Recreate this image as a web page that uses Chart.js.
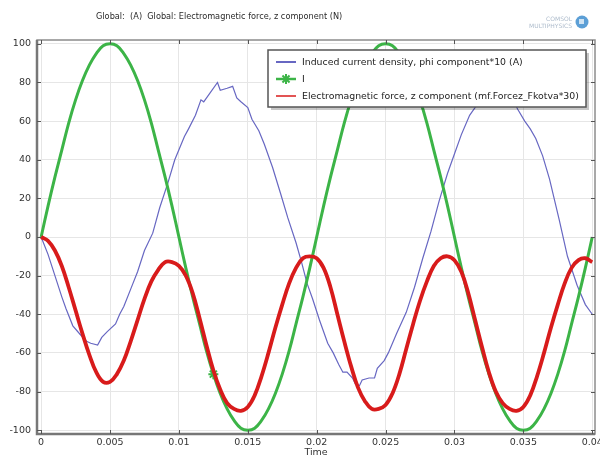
<!DOCTYPE html>
<html>
<head>
<meta charset="utf-8">
<title>Electromagnetic force, z component</title>
<script src="https://cdn.jsdelivr.net/npm/chart.js@4.4.0/dist/chart.umd.min.js"></script>
<style>
  html, body { margin: 0; padding: 0; background: #fff; }
  #wrap { width: 600px; height: 458px; }
</style>
</head>
<body>
<div id="wrap"><canvas id="emChart" width="600" height="458"></canvas></div>
<script>
// Sample times (s) shared by the current and the force curves
const timeSamples = [
  0, 0.0005, 0.001, 0.0015, 0.002, 0.0025, 0.003, 0.0035, 0.004, 0.0045,
  0.005, 0.0055, 0.006, 0.0065, 0.007, 0.0075, 0.008, 0.0085, 0.009, 0.0095,
  0.01, 0.0105, 0.011, 0.0115, 0.012, 0.0125, 0.013, 0.0135, 0.014, 0.0145,
  0.015, 0.0155, 0.016, 0.0165, 0.017, 0.0175, 0.018, 0.0185, 0.019, 0.0195,
  0.02, 0.0205, 0.021, 0.0215, 0.022, 0.0225, 0.023, 0.0235, 0.024, 0.0245,
  0.025, 0.0255, 0.026, 0.0265, 0.027, 0.0275, 0.028, 0.0285, 0.029, 0.0295,
  0.03, 0.0305, 0.031, 0.0315, 0.032, 0.0325, 0.033, 0.0335, 0.034, 0.0345,
  0.035, 0.0355, 0.036, 0.0365, 0.037, 0.0375, 0.038, 0.0385, 0.039, 0.0395,
  0.04
];

// Green curve "I"
const currentI = [
  0, 16, 31, 45, 59, 71, 81, 89, 95, 99,
  100, 99, 95, 89, 81, 71, 59, 45, 31, 16,
  0, -16, -31, -45, -59, -71, -81, -89, -95, -99,
  -100, -99, -95, -89, -81, -71, -59, -45, -31, -16,
  0, 16, 31, 45, 59, 71, 81, 89, 95, 99,
  100, 99, 95, 89, 81, 71, 59, 45, 31, 16,
  0, -16, -31, -45, -59, -71, -81, -89, -95, -99,
  -100, -99, -95, -89, -81, -71, -59, -45, -31, -16,
  0
];

// Red curve, force z component (*30)
const forceZ = [
  0, -2, -7, -15, -26, -38, -50, -61, -70, -75,
  -75, -71, -64, -54, -43, -32, -23, -17, -13, -13,
  -15, -20, -29, -42, -56, -69, -79, -86, -89, -90,
  -88, -82, -72, -60, -47, -35, -24, -16, -11, -10,
  -11, -16, -26, -40, -54, -67, -78, -85, -89, -89,
  -87, -81, -71, -58, -45, -33, -23, -15, -11, -10,
  -12, -18, -29, -43, -57, -70, -80, -86, -89, -90,
  -88, -82, -72, -60, -47, -35, -24, -16, -12, -11,
  -13
];

// Blue curve, induced current density (*10), read point by point
const densityTime = [
  0, 0.0005, 0.001, 0.0015, 0.0018, 0.0023, 0.0029, 0.0033, 0.0036, 0.0041,
  0.0044, 0.0048, 0.0054, 0.0057, 0.006, 0.0065, 0.007, 0.0075, 0.0081, 0.0086,
  0.0092, 0.0097, 0.0104, 0.0107, 0.0112, 0.0116, 0.0118, 0.0122, 0.0128, 0.013,
  0.0135, 0.0139, 0.0142, 0.0145, 0.015, 0.0153, 0.0158, 0.0162, 0.0168, 0.0174,
  0.0179, 0.0185, 0.0189, 0.0193, 0.0197, 0.0202, 0.0208, 0.0212, 0.0216, 0.0219,
  0.0222, 0.0226, 0.0228, 0.0231, 0.0233, 0.0238, 0.0242, 0.0244, 0.0249, 0.0252,
  0.0258, 0.0265, 0.0271, 0.0277, 0.0283, 0.0289, 0.0295, 0.0299, 0.0305, 0.0311,
  0.0313, 0.0316, 0.0322, 0.0328, 0.0334, 0.034, 0.0346, 0.0351, 0.0355, 0.0359,
  0.0364, 0.0369, 0.0376, 0.0382, 0.0389, 0.0395, 0.04
];
const densityPhi = [
  0, -9, -20, -31, -37, -46, -51, -54, -55, -56,
  -52, -49, -45, -40, -36, -27, -18, -7, 2, 15,
  28, 40, 52, 56, 63, 71, 70, 74, 80, 76,
  77, 78, 72, 70, 67, 61, 55, 48, 36, 22,
  10, -3, -13, -24, -32, -43, -55, -60, -66, -70,
  -70, -73, -76, -77, -74, -73, -73, -68, -64, -60,
  -50, -39, -26, -11, 3, 19, 33, 41, 53, 63,
  65, 68, 74, 78, 79, 74, 66, 60, 56, 51,
  42, 30, 9, -10, -25, -35, -40
];

// The single star marker on the "I" curve
const markerTime = 0.0125;

const xTicks = [0, 0.005, 0.01, 0.015, 0.02, 0.025, 0.03, 0.035, 0.04];
const xTickLabels = ['0', '0.005', '0.01', '0.015', '0.02', '0.025', '0.03', '0.035', '0.04'];
const yTicks = [-100, -80, -60, -40, -20, 0, 20, 40, 60, 80, 100];

const seriesLabels = [
  'Induced current density, phi component*10 (A)',
  'I',
  'Electromagnetic force, z component (mf.Forcez_Fkotva*30)'
];
const plotTitle = 'Global:  (A)  Global: Electromagnetic force, z component (N)';

const blue = '#6767c2';
const green = '#3cb447';
const red = '#d81b1b';
const fontName = '"DejaVu Sans", sans-serif';

// COMSOL style frame, inward ticks, legend box, title and logo
const comsolDecor = {
  id: 'comsolDecor',
  afterDraw(chart) {
    const { ctx, chartArea: a, scales: { x, y } } = chart;
    ctx.save();

    // frame
    ctx.strokeStyle = '#8c8c8c';
    ctx.lineWidth = 1.5;
    ctx.strokeRect(a.left, a.top, a.right - a.left, a.bottom - a.top);
    ctx.strokeStyle = '#777';
    ctx.lineWidth = 2.5;
    ctx.beginPath();
    ctx.moveTo(a.left, a.top);
    ctx.lineTo(a.left, a.bottom);
    ctx.lineTo(a.right, a.bottom);
    ctx.stroke();

    // inward tick marks on all four sides
    ctx.strokeStyle = '#555';
    ctx.lineWidth = 1;
    ctx.beginPath();
    xTicks.forEach(v => {
      const px = Math.round(x.getPixelForValue(v)) + 0.5;
      ctx.moveTo(px, a.bottom); ctx.lineTo(px, a.bottom - 4);
      ctx.moveTo(px, a.top); ctx.lineTo(px, a.top + 4);
    });
    yTicks.forEach(v => {
      const py = Math.round(y.getPixelForValue(v)) + 0.5;
      ctx.moveTo(a.left, py); ctx.lineTo(a.left + 4, py);
      ctx.moveTo(a.right, py); ctx.lineTo(a.right - 4, py);
    });
    ctx.stroke();

    // legend box
    const lx = 268, ly = 50, lw = 318, lh = 57;
    ctx.fillStyle = 'rgba(0,0,0,0.22)';
    ctx.fillRect(lx + 3, ly + 3, lw, lh);
    ctx.fillStyle = '#fff';
    ctx.fillRect(lx, ly, lw, lh);
    ctx.strokeStyle = '#555';
    ctx.lineWidth = 1.5;
    ctx.strokeRect(lx, ly, lw, lh);

    const rows = [
      { color: blue, width: 2, star: false },
      { color: green, width: 2.5, star: true },
      { color: red, width: 1.5, star: false }
    ];
    ctx.font = '9.35px ' + fontName;
    ctx.textBaseline = 'middle';
    ctx.textAlign = 'left';
    rows.forEach((r, i) => {
      const ry = ly + 12 + i * 17;
      ctx.strokeStyle = r.color;
      ctx.lineWidth = r.width;
      ctx.beginPath();
      ctx.moveTo(lx + 8, ry);
      ctx.lineTo(lx + 28, ry);
      ctx.stroke();
      if (r.star) {
        ctx.lineWidth = 2;
        Chart.helpers.drawPoint(ctx, { pointStyle: 'star', radius: 5, rotation: 0, borderWidth: 2 }, lx + 18, ry);
      }
      ctx.fillStyle = '#222';
      ctx.fillText(seriesLabels[i], lx + 34, ry + 0.5);
    });

    // plot title
    ctx.font = '8.2px ' + fontName;
    ctx.fillStyle = '#2a2a2a';
    ctx.fillText(plotTitle, 96, 17);

    // COMSOL logo
    ctx.font = '6px ' + fontName;
    ctx.fillStyle = '#aebccc';
    ctx.textAlign = 'right';
    ctx.fillText('COMSOL', 572, 19);
    ctx.fillText('MULTIPHYSICS', 572, 26);
    ctx.fillStyle = '#5c9fd6';
    ctx.beginPath();
    ctx.arc(582, 22, 6.5, 0, Math.PI * 2);
    ctx.fill();
    ctx.fillStyle = '#cfe3f3';
    ctx.fillRect(579, 19, 5, 5);

    ctx.restore();
  }
};

const toPoints = (times, values) => times.map((t, i) => ({ x: t, y: values[i] }));

new Chart(document.getElementById('emChart').getContext('2d'), {
  type: 'line',
  data: {
    datasets: [
      {
        label: seriesLabels[0],
        data: toPoints(densityTime, densityPhi),
        borderColor: blue,
        borderWidth: 1.2,
        pointRadius: 0,
        tension: 0,
        order: 2
      },
      {
        label: seriesLabels[1],
        data: toPoints(timeSamples, currentI),
        borderColor: green,
        borderWidth: 3,
        tension: 0.4,
        pointStyle: 'star',
        pointRadius: c => timeSamples[c.dataIndex] === markerTime ? 5 : 0,
        pointBorderColor: green,
        pointBorderWidth: 2,
        order: 1
      },
      {
        label: seriesLabels[2],
        data: toPoints(timeSamples, forceZ),
        borderColor: red,
        borderWidth: 3.8,
        tension: 0.4,
        pointRadius: 0,
        order: 0
      }
    ]
  },
  options: {
    responsive: false,
    devicePixelRatio: 1,
    animation: false,
    layout: { padding: { top: 40, right: 5, left: 0, bottom: 0 } },
    plugins: {
      legend: { display: false },
      tooltip: { enabled: false }
    },
    scales: {
      x: {
        type: 'linear',
        min: -0.0003,
        max: 0.0402,
        afterBuildTicks: s => { s.ticks = xTicks.map(v => ({ value: v })); },
        afterFit: s => { s.height = 24; s.paddingLeft = 0; s.paddingRight = 0; },
        ticks: {
          callback: (v, i) => xTickLabels[i],
          font: { family: fontName, size: 9.5 },
          color: '#333',
          padding: 3,
          maxRotation: 0,
          autoSkip: false
        },
        grid: { color: '#e6e6e6', drawTicks: false },
        border: { display: false },
        title: {
          display: true,
          text: 'Time',
          font: { family: fontName, size: 9.5 },
          color: '#333',
          padding: 0
        }
      },
      y: {
        type: 'linear',
        min: -102,
        max: 102,
        afterBuildTicks: s => { s.ticks = yTicks.map(v => ({ value: v })); },
        afterFit: s => { s.width = 37; s.paddingTop = 0; s.paddingBottom = 0; },
        ticks: {
          font: { family: fontName, size: 9.5 },
          color: '#333',
          padding: 6
        },
        grid: { color: '#e6e6e6', drawTicks: false },
        border: { display: false }
      }
    }
  },
  plugins: [comsolDecor]
});
</script>
</body>
</html>
